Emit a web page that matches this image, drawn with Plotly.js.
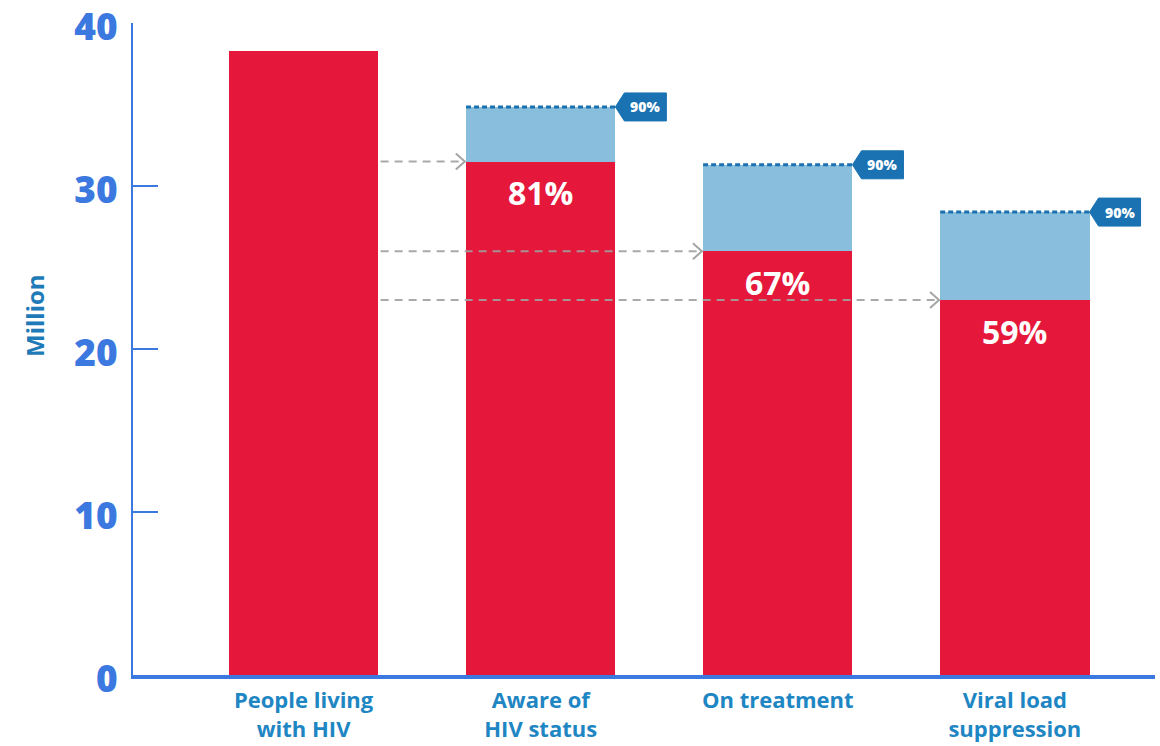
<!DOCTYPE html>
<html>
<head>
<meta charset="utf-8">
<script src="https://cdn.plot.ly/plotly-3.0.1.min.js"></script>
<style>html,body{margin:0;padding:0;background:#fff;}#chart{width:1160px;height:746px;}</style>
</head>
<body>
<div id="chart"></div>
<script>
// ---- data ----
var categories = ["People living<br>with HIV", "Aware of<br>HIV status", "On treatment", "Viral load<br>suppression"];
var actualValues = [38.3, 31.5, 26.0, 23.0];          // million (red bars)
var targetValues = [null, 34.85, 31.3, 28.4];          // million (90% targets, light blue)
var percentLabels = ["", "81%", "67%", "59%"];
var targetLabel = "90%";
var yTickVals = [0, 10, 20, 30, 40];
var yTitle = "Million";

// ---- styles ----
var RED = "#e5173a", LIGHTBLUE = "#8abedd", TAGBLUE = "#1a72b2", AXISBLUE = "#3b78e0", LABELBLUE = "#1e86c3", TITLEBLUE = "#1f7ab8";
var BARW = 0.63, HALF = BARW / 2;
var FONT = "'Open Sans', 'DejaVu Sans', sans-serif";

var idx = categories.map(function (_, i) { return i; });

var traces = [
  { type: "bar", x: idx, y: targetValues, width: BARW, marker: { color: LIGHTBLUE, line: { width: 0 } }, hoverinfo: "skip" },
  { type: "bar", x: idx, y: actualValues, width: BARW, marker: { color: RED, line: { width: 0 } }, hoverinfo: "skip" }
];

var shapes = [], annotations = [];

for (var i = 1; i < categories.length; i++) {
  // dashed arrow from first bar to this bar's actual value
  shapes.push({ type: "line", xref: "x", yref: "y", x0: HALF + 0.01, x1: i - HALF - 0.01, y0: actualValues[i], y1: actualValues[i],
    line: { color: "rgba(160,160,160,0.9)", width: 2, dash: "8px,6px" }, layer: "above" });
  shapes.push({ type: "path", xref: "x", yref: "y", xsizemode: "pixel", ysizemode: "pixel",
    xanchor: i - HALF - 0.005, yanchor: actualValues[i], path: "M-9,8 L0,0 L-9,-8",
    line: { color: "rgba(160,160,160,0.95)", width: 2 }, layer: "above" });
  // dotted target line on top of light blue bar
  shapes.push({ type: "line", xref: "x", yref: "y", x0: i - HALF, x1: i + HALF, y0: targetValues[i], y1: targetValues[i],
    line: { color: TAGBLUE, width: 3, dash: "5px,3px" }, layer: "above" });
  // tag
  shapes.push({ type: "path", xref: "x", yref: "y", xsizemode: "pixel", ysizemode: "pixel",
    xanchor: i + HALF, yanchor: targetValues[i], path: "M0,0 L9,14 L51,14 L51,-14 L9,-14 Z",
    fillcolor: TAGBLUE, line: { color: TAGBLUE, width: 1 }, layer: "above" });
  annotations.push({ xref: "x", yref: "y", x: i + HALF, y: targetValues[i], xshift: 30, showarrow: false,
    text: targetLabel, font: { family: FONT, size: 14, color: "#ffffff", weight: 800 }, xanchor: "center", yanchor: "middle" });
  // percentage label
  annotations.push({ xref: "x", yref: "y", x: i, y: actualValues[i], yshift: -31, showarrow: false,
    text: percentLabels[i], font: { family: FONT, size: 32, color: "#ffffff", weight: 700 }, xanchor: "center", yanchor: "middle" });
}

annotations.push({ xref: "paper", yref: "paper", x: -0.097, y: 0.552, showarrow: false, textangle: -90,
  text: yTitle, font: { family: FONT, size: 24, color: TITLEBLUE, weight: 700 }, xanchor: "center", yanchor: "middle" });

var layout = {
  width: 1160, height: 746,
  margin: { l: 133, r: 5, t: 23, b: 71, pad: 0 },
  paper_bgcolor: "#ffffff", plot_bgcolor: "#ffffff",
  barmode: "overlay", bargap: 0, showlegend: false,
  xaxis: {
    range: [-0.7195, 3.591], tickmode: "array", tickvals: idx, ticktext: categories,
    showgrid: false, zeroline: false, showline: true, linecolor: AXISBLUE, linewidth: 4, ticks: "",
    tickfont: { family: FONT, size: 22, color: LABELBLUE, weight: 700 }, ticklabelstandoff: 3, fixedrange: true
  },
  yaxis: {
    range: [0, 40], tickmode: "array", tickvals: yTickVals,
    showgrid: false, zeroline: false, showline: true, linecolor: AXISBLUE, linewidth: 2,
    ticks: "inside", ticklen: 25, tickwidth: 2, tickcolor: AXISBLUE, ticklabelstandoff: 6, ticklabelshift: 4,
    ticklabeloverflow: "allow",
    tickfont: { family: FONT, size: 37, color: AXISBLUE, weight: 800 }, fixedrange: true
  },
  shapes: shapes, annotations: annotations
};

Plotly.newPlot("chart", traces, layout, { displayModeBar: false, staticPlot: true });
</script>
</body>
</html>
